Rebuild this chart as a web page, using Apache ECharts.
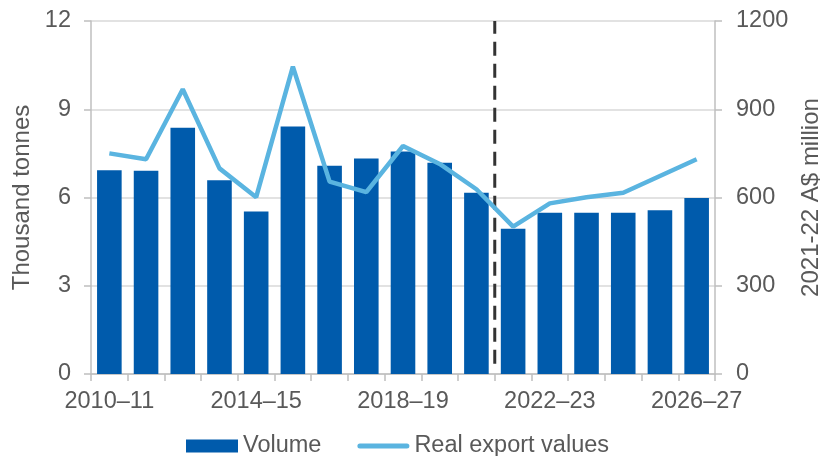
<!DOCTYPE html>
<html><head><meta charset="utf-8">
<script src="https://cdn.jsdelivr.net/npm/echarts@6/dist/echarts.min.js"></script>
<style>html,body{margin:0;padding:0;background:#fff}#c{width:825px;height:456px}</style>
</head><body><div id="c"></div>
<script>
const categories = ['2010–11','2011–12','2012–13','2013–14','2014–15','2015–16','2016–17','2017–18','2018–19','2019–20','2020–21','2021–22','2022–23','2023–24','2024–25','2025–26','2026–27'];
const volume = [6.93,6.91,8.37,6.59,5.52,8.41,7.08,7.33,7.56,7.18,6.16,4.94,5.48,5.48,5.48,5.57,5.98];
const exportValues = [750,730,968,699,601,1045,654,618,775,714,628,501,580,601,616,673,730];
const leftTicks = [0,3,6,9,12];
const rightTicks = [0,300,600,900,1200];
const forecastStart = 11;

const txt = '#595959';
const font = 'Liberation Sans, Arial, sans-serif';
const chart = echarts.init(document.getElementById('c'));
chart.setOption({
  animation:false,
  textStyle:{fontFamily:font},
  grid:{left:91,right:110,top:21,bottom:82,containLabel:false,outerBoundsMode:'none'},
  legend:{
    left:181,top:429,itemGap:36,itemWidth:52,itemHeight:13,
    textStyle:{color:txt,fontSize:23.5,fontFamily:font},
    data:[{name:'Volume',icon:'rect'},{name:'Real export values',icon:'path://M2.5,0 L49.5,0 A2.5,2.5 0 0 1 49.5,5 L2.5,5 A2.5,2.5 0 0 1 2.5,0 Z'}]
  },
  xAxis:[{
    type:'category',data:categories,boundaryGap:true,
    axisLine:{lineStyle:{color:'#bfbfbf',width:1.5}},
    axisTick:{show:true,interval:0,length:7,lineStyle:{color:'#bfbfbf',width:1.5}},
    axisLabel:{interval:3,color:txt,fontSize:23.5,margin:16,fontFamily:font},
    splitLine:{show:false}
  },{
    type:'value',min:0,max:categories.length,show:false
  }],
  yAxis:[{
    type:'value',min:0,max:12,interval:3,
    name:'Thousand tonnes',nameLocation:'middle',nameGap:56,nameRotate:90,
    nameTextStyle:{color:txt,fontSize:24,fontFamily:font},
    axisLine:{show:true,lineStyle:{color:'#bfbfbf',width:1.5}},
    axisTick:{show:true,length:7,lineStyle:{color:'#bfbfbf',width:1.5}},
    axisLabel:{color:txt,fontSize:23.5,margin:20,fontFamily:font,
      formatter:v=>leftTicks.includes(v)?String(v):''},
    splitLine:{show:true,lineStyle:{color:'#d9d9d9',width:1.5}}
  },{
    type:'value',min:0,max:1200,interval:300,position:'right',
    name:'2021-22 A$ million',nameLocation:'middle',nameGap:84,nameRotate:90,
    nameTextStyle:{color:txt,fontSize:24,fontFamily:font},
    axisLine:{show:true,lineStyle:{color:'#bfbfbf',width:1.5}},
    axisTick:{show:true,length:7,lineStyle:{color:'#bfbfbf',width:1.5}},
    axisLabel:{color:txt,fontSize:23.5,margin:21,fontFamily:font,
      formatter:v=>rightTicks.includes(v)?String(v):''},
    splitLine:{show:false}
  }],
  series:[{
    name:'Volume',type:'bar',data:volume,barWidth:'67%',
    itemStyle:{color:'#005BAC'},z:2
  },{
    name:'Real export values',type:'line',yAxisIndex:1,data:exportValues,
    symbol:'none',lineStyle:{color:'#5AB4E0',width:4.5},itemStyle:{color:'#5AB4E0'},z:4
  },{
    name:'forecast',type:'line',xAxisIndex:1,yAxisIndex:0,
    data:[[forecastStart,0.35],[forecastStart,12]],
    symbol:'none',silent:true,
    lineStyle:{color:'#333333',width:3,type:[14,8]},z:3
  }]
});
</script></body></html>
